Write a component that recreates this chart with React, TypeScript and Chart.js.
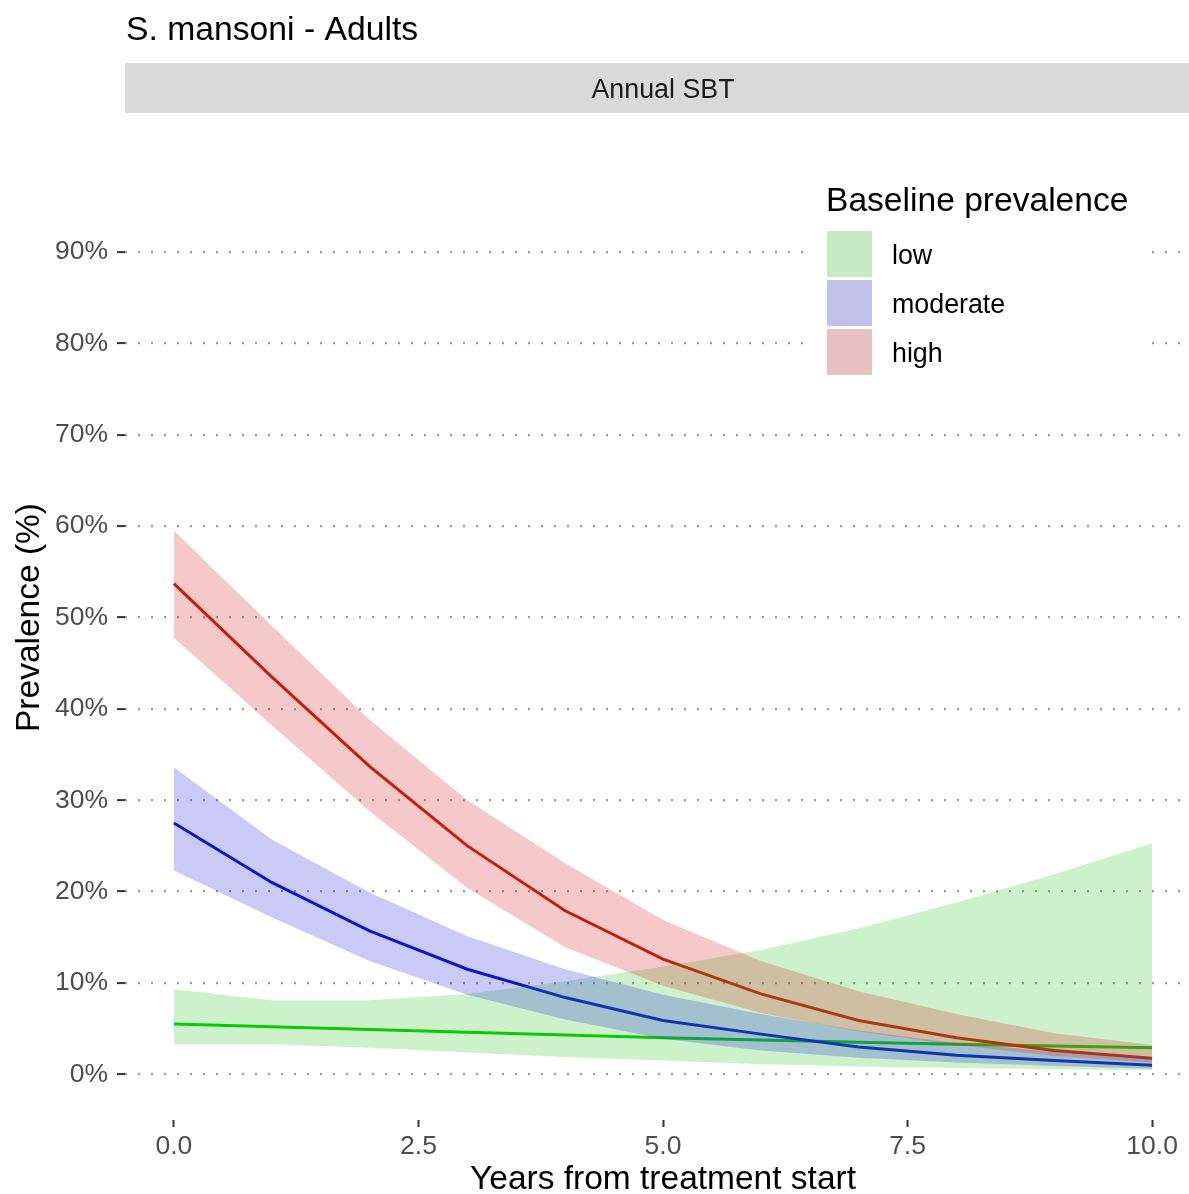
import React, { useEffect, useRef } from "react";
import { Chart, registerables } from "chart.js";

Chart.register(...registerables);

// ---- data ----
const years = [0, 1, 2, 3, 4, 5, 6, 7, 8, 9, 10];

const highMean = [53.7, 43.5, 33.7, 25.0, 17.9, 12.6, 8.8, 5.9, 4.0, 2.6, 1.75];
const highUpper = [59.5, 49.1, 38.8, 30.0, 23.1, 16.9, 12.4, 9.1, 6.6, 4.5, 3.2];
const highLower = [47.8, 38.2, 28.8, 20.4, 13.9, 9.7, 6.7, 4.7, 3.2, 2.0, 1.3];

const moderateMean = [27.5, 21.0, 15.7, 11.5, 8.4, 5.9, 4.4, 3.0, 2.1, 1.5, 1.0];
const moderateUpper = [33.6, 25.7, 19.9, 15.1, 11.5, 8.7, 6.6, 4.8, 3.4, 2.5, 1.8];
const moderateLower = [22.3, 17.2, 12.4, 8.7, 6.0, 3.9, 2.6, 1.8, 1.3, 0.9, 0.6];

const lowMean = [5.5, 5.2, 4.9, 4.6, 4.3, 4.0, 3.75, 3.5, 3.3, 3.1, 2.9];
const lowUpper = [9.3, 8.1, 8.1, 8.8, 10.2, 11.8, 13.6, 16.0, 18.8, 21.9, 25.3];
const lowLower = [3.3, 3.3, 2.9, 2.4, 1.9, 1.5, 1.1, 0.85, 0.7, 0.55, 0.45];

const categories = ["low", "moderate", "high"];
const xTicks = [0, 2.5, 5, 7.5, 10];
const yTicks = [0, 10, 20, 30, 40, 50, 60, 70, 80, 90];

const chartTitle = "S. mansoni - Adults";
const stripLabel = "Annual SBT";
const legendTitle = "Baseline prevalence";
const xTitle = "Years from treatment start";
const yTitle = "Prevalence (%)";

// ---- styles ----
const FAMILY = "'Liberation Sans', Arial, Helvetica, sans-serif";
const lineColors = { low: "#00cc00", moderate: "#0010c8", high: "#c41800" };
const bandColors = {
  low: "rgba(40,200,30,0.23)",
  moderate: "rgba(40,45,220,0.25)",
  high: "rgba(215,40,40,0.25)",
};
const keyColors = { low: "#c7e9c4", moderate: "#c0c2eb", high: "#eac1c2" };

const W = 1201;
const H = 1210;

export default function App() {
  const ref = useRef<HTMLCanvasElement>(null);

  useEffect(() => {
    const canvas = ref.current;
    if (!canvas) return;
    const pts = (ys: number[]) => years.map((x, i) => ({ x, y: ys[i] }));

    const lineDs = (label: string, ys: number[], color: string) => ({
      label,
      data: pts(ys),
      borderColor: color,
      borderWidth: 3,
      pointRadius: 0,
      fill: false,
      tension: 0,
    });
    const bandUpper = (label: string, ys: number[], color: string) => ({
      label,
      data: pts(ys),
      borderWidth: 0,
      borderColor: "rgba(0,0,0,0)",
      backgroundColor: color,
      pointRadius: 0,
      fill: "+1",
      tension: 0,
    });
    const bandLower = (label: string, ys: number[]) => ({
      label,
      data: pts(ys),
      borderWidth: 0,
      borderColor: "rgba(0,0,0,0)",
      pointRadius: 0,
      fill: false,
      tension: 0,
    });

    const decor = {
      id: "decor",
      afterDraw(chart: any) {
        const ctx = chart.ctx as CanvasRenderingContext2D;
        const area = chart.chartArea;
        ctx.save();
        // title
        ctx.fillStyle = "#000";
        ctx.font = `33.7px ${FAMILY}`;
        ctx.textAlign = "left";
        ctx.textBaseline = "alphabetic";
        ctx.fillText(chartTitle, 126, 40);
        // strip
        ctx.fillStyle = "#d9d9d9";
        ctx.fillRect(area.left, 63, area.right - area.left, 50);
        ctx.fillStyle = "#1a1a1a";
        ctx.font = `26.8px ${FAMILY}`;
        ctx.textAlign = "center";
        ctx.fillText(stripLabel, (area.left + area.right) / 2, 98);
        // legend
        ctx.fillStyle = "#ffffff";
        ctx.fillRect(812, 172, 333, 218);
        ctx.fillStyle = "#000";
        ctx.textAlign = "left";
        ctx.font = `33.6px ${FAMILY}`;
        ctx.fillText(legendTitle, 826, 211);
        ctx.font = `26.8px ${FAMILY}`;
        categories.forEach((c, i) => {
          const y0 = 231 + i * 49;
          ctx.fillStyle = (keyColors as any)[c];
          ctx.fillRect(827, y0, 45, 46);
          ctx.fillStyle = "#000";
          ctx.fillText(c, 892, y0 + 33);
        });
        ctx.restore();
      },
    };

    const chart = new Chart(canvas, {
      type: "line",
      data: {
        datasets: [
          // ribbons (drawn on top of the lines, as in the reference)
          bandUpper("high upper", highUpper, bandColors.high),
          bandLower("high lower", highLower),
          bandUpper("moderate upper", moderateUpper, bandColors.moderate),
          bandLower("moderate lower", moderateLower),
          bandUpper("low upper", lowUpper, bandColors.low),
          bandLower("low lower", lowLower),
          // central lines
          lineDs("high", highMean, lineColors.high),
          lineDs("moderate", moderateMean, lineColors.moderate),
          lineDs("low", lowMean, lineColors.low),
        ] as any,
      },
      options: {
        animation: false,
        responsive: false,
        devicePixelRatio: 1,
        layout: { padding: { top: 115, right: 0, left: 0, bottom: 0 } },
        plugins: {
          legend: { display: false },
          tooltip: { enabled: false },
          title: { display: false },
        },
        elements: { point: { radius: 0 } },
        scales: {
          x: {
            type: "linear",
            min: -0.5,
            max: 10.5,
            afterBuildTicks: (s: any) => {
              s.ticks = xTicks.map((v) => ({ value: v }));
            },
            afterFit: (s: any) => {
              s.height = 90;
            },
            grid: {
              drawOnChartArea: false,
              drawTicks: true,
              tickLength: 7,
              tickColor: "#333333",
              tickWidth: 2,
            },
            border: { display: false },
            ticks: {
              color: "#4d4d4d",
              font: { family: FAMILY, size: 26.5 },
              padding: 4,
              maxRotation: 0,
              autoSkip: false,
              callback: (v: any) => Number(v).toFixed(1),
            },
            title: {
              display: true,
              text: xTitle,
              color: "#000",
              font: { family: FAMILY, size: 33.5, lineHeight: 1.2 },
              padding: { top: 0, bottom: 10 },
            },
          },
          y: {
            type: "linear",
            min: -5,
            max: 105,
            afterBuildTicks: (s: any) => {
              s.ticks = yTicks.map((v) => ({ value: v }));
            },
            afterFit: (s: any) => {
              s.width = 125;
            },
            grid: {
              color: "#999999",
              lineWidth: 2.2,
              drawTicks: true,
              tickLength: 8,
              tickColor: "#333333",
              tickWidth: 2,
              tickBorderDash: [],
            } as any,
            border: { display: false, dash: [2, 11] },
            ticks: {
              color: "#4d4d4d",
              font: { family: FAMILY, size: 26.5 },
              padding: 9,
              callback: (v: any) => `${v}%`,
            },
            title: {
              display: true,
              text: yTitle,
              color: "#000",
              font: { family: FAMILY, size: 33.5, lineHeight: 1.2 },
              padding: { top: 10, bottom: 0 },
            },
          },
        },
      } as any,
      plugins: [decor],
    });
    return () => chart.destroy();
  }, []);

  return (
    <div
      style={{
        position: "absolute",
        left: 0,
        top: 0,
        width: 1189,
        height: 1194,
        overflow: "hidden",
        background: "#ffffff",
      }}
    >
      <canvas ref={ref} width={W} height={H} style={{ display: "block" }} />
    </div>
  );
}
